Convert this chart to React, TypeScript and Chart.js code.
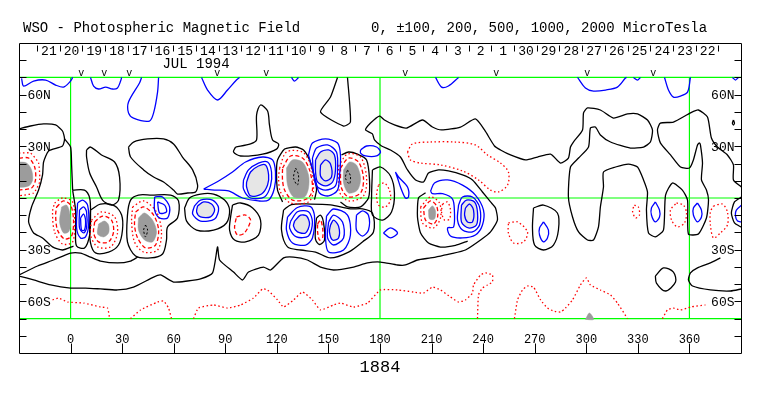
import React, { useEffect, useRef } from "react";
import { Chart, registerables } from "chart.js";
Chart.register(...registerables);

type P = [number, number];

// ---------- axes / labels ----------
const lonTicks = [0, 30, 60, 90, 120, 150, 180, 210, 240, 270, 300, 330, 360];
const latTickMarks = [-80, -70, -60, -50, -40, -30, -20, -10, 0, 10, 20, 30, 40, 50, 60, 70, 80];
const latLabelValues = [60, 30, -30, -60];
const latLabelTexts = ["60N", "30N", "30S", "60S"];
const greenLons = [0, 180, 360];
const greenLats = [-70, 0, 70];
const dayTickLons = [-19.5, -6.3, 6.9, 20.1, 33.3, 46.6, 59.8, 73.0, 86.2, 99.4, 112.6, 125.8, 139.1, 152.3, 165.5, 178.7, 191.9, 205.1, 218.4, 231.6, 244.8, 258.0, 271.2, 284.4, 297.6, 310.9, 324.1, 337.3, 350.5, 363.7, 376.9];
const dayLabels = ["21", "20", "19", "18", "17", "16", "15", "14", "13", "12", "11", "10", "9", "8", "7", "6", "5", "4", "3", "2", "1", "30", "29", "28", "27", "26", "25", "24", "23", "22"];
const monthLabel = "JUL 1994";
const monthLon = 73;
const vMarkLons = [6.2, 19.6, 34.1, 85.3, 113.8, 194.7, 247.6, 300.5, 338.9];
const titleText = "WSO - Photospheric Magnetic Field";
const levelsText = "0, \u00b1100, 200, 500, 1000, 2000 MicroTesla";
const rotationText = "1884";

// ---------- blue (positive) open contours at the top ----------
const blueTop1: P[] = [[-28.5, 69.5], [-27.3, 65], [-21.5, 67.9], [-14.5, 68.5], [-8.7, 65.6], [-4.1, 64.4], [0, 67.9], [1.2, 70]];
const blueTop2: P[] = [[11.6, 70], [13.4, 65], [16.3, 63.3], [20.4, 64.4], [24.4, 63.3], [27.3, 63.9], [29.1, 67.9], [29.7, 70]];
const blueTop3: P[] = [[41.3, 70], [40.1, 66.8], [33.7, 55.7], [33.7, 49.4], [36.6, 46.4], [45.9, 44.7], [48.3, 49.4], [50.6, 61.5], [51.2, 70]];
const blueTop4: P[] = [[76.2, 70], [79.7, 62.7], [85.5, 56.9], [91.3, 62.7], [96.5, 68.5], [98.3, 70]];
const blueTop5: P[] = [[128.5, 70], [130.3, 67.9], [132.6, 70]];
const blueTop6: P[] = [[212.3, 70], [215.8, 64.4], [219.8, 65], [225.7, 70]];
const blueTop7: P[] = [[294.9, 70], [299.5, 63.9], [304.2, 62.1], [311.2, 62.7], [318.1, 64.4], [322.8, 69.7], [323.4, 70]];
const blueTop8: P[] = [[327.4, 70], [329.8, 68.5], [331.5, 70]];
const blueTop9: P[] = [[345.5, 70], [347.8, 62.7], [350.7, 58.6], [354.8, 59.2], [358.9, 61.5], [360.6, 70]];
const blueTop10: P[] = [[385, 70], [386.8, 68.5], [388.5, 70]];
const blueEdge: P[] = [[390.5, -4], [387.3, -7], [386.8, -10.5], [388, -13.4], [390.5, -14]];

// ---------- blue closed contours ----------
const blueOval1: P[] = [[4.1, -2.9], [7.0, -1.2], [9.9, -4.1], [10.5, -15.7], [8.7, -22.6], [5.8, -23.2], [3.5, -17.4]];
const blueOval2: P[] = [[5.2, -7.0], [7.6, -5.2], [9.3, -8.1], [9.3, -17.4], [7.6, -20.3], [5.2, -17.4]];
const blueOval3: P[] = [[5.8, -11.6], [7.6, -9.3], [8.7, -12.8], [8.1, -18.6], [6.4, -18.6]];
const blueB1: P[] = [[48.9, 0.6], [53.5, 0.6], [57.6, -5.2], [56.4, -11.6], [51.8, -11.6], [48.9, -7.0]];
const blueB2: P[] = [[50.6, -2.3], [54.7, -4.1], [55.8, -8.1], [51.8, -8.7]];
const blueRing1: P[] = [[72.1, -4.6], [75.6, -1.2], [82.6, -1.2], [86.1, -5.8], [83.8, -12.2], [75.6, -13.4], [71.0, -9.3]];
const blueBigOuter: P[] = [[77.4, 5.2], [86.1, 9.9], [94.2, 15.1], [101.8, 20.9], [111.7, 23.8], [117.5, 22.1], [119.2, 15.1], [118.6, 5.8], [115.2, -1.2], [109.3, -1.7], [100.0, 0], [91.9, 4.1], [83.8, 4.6]];
const blueRing2: P[] = [[100.6, 10.5], [103.5, 16.3], [109.3, 20.3], [114.6, 20.9], [116.9, 15.1], [116.3, 7.0], [112.8, 0.6], [104.7, 0], [100.6, 5.2]];
const blue3b: P[] = [[138.4, 25.0], [140.7, 31.9], [148.3, 34.3], [155.3, 31.9], [157.0, 25.0], [156.5, 13.4], [155.3, 4.6], [150.1, 1.2], [144.8, 2.9], [142.5, 10.5]];
const blue3a: P[] = [[140.7, 23.2], [143.1, 29.0], [149.5, 30.8], [154.7, 26.7], [155.3, 16.3], [154.1, 7.0], [148.3, 4.6], [143.1, 7.0], [141.3, 15.1]];
const blue3c: P[] = [[145.4, 19.2], [148.3, 22.1], [151.2, 19.7], [151.8, 12.2], [148.3, 9.9], [145.4, 12.8]];
const blueSmall1: P[] = [[168.7, 27.9], [172.2, 30.2], [178.0, 29.6], [180.3, 26.7], [178.0, 24.4], [171.6, 24.4], [168.7, 26.1]];
const blue4b: P[] = [[126.2, -11.0], [132.0, -5.5], [139.6, -5.0], [141.9, -10.5], [140.7, -23.2], [136.7, -27.3], [129.1, -26.1], [125.6, -18.6]];
const blue4a: P[] = [[128.0, -13.5], [132.0, -8.0], [138.4, -8.0], [140.7, -14.0], [138.4, -22.1], [131.4, -22.6], [127.4, -17.4]];
const blue5b: P[] = [[148.9, -10.5], [153.0, -6.4], [161.1, -9.9], [162.8, -21.5], [158.8, -30.2], [150.1, -31.4], [148.3, -23.2]];
const blue5a: P[] = [[150.1, -13.9], [153.0, -9.9], [158.2, -13.9], [158.8, -23.2], [153.0, -27.3], [149.5, -23.2]];
const blue6: P[] = [[166.3, -10.0], [169.8, -7.5], [173.3, -10.0], [173.3, -18.6], [169.8, -22.1], [166.3, -18.6]];
const blueThin: P[] = [[189.0, 15.1], [190.8, 12.2], [196.0, 6.4], [196.6, 0.6], [194.8, 0], [191.9, 6.4], [190.2, 11.6]];
const blueDiamond: P[] = [[182.0, -20.3], [186.1, -17.4], [190.2, -20.3], [186.1, -23.2]];
const blue7outer: P[] = [[209.4, 4.0], [211.7, 8.7], [219.3, 10.5], [228.0, 7.5], [235.5, 1.7], [240.2, -7.0], [239.6, -15.7], [235.5, -21.5], [228.0, -23.2], [221.0, -22.1], [219.3, -17.4], [222.8, -16.8], [223.3, -8.1], [222.2, -0.6], [216.4, 2.5], [210.5, 2.5]];
const blue7a: P[] = [[225.7, -4.1], [228.0, 0.6], [233.8, 0.6], [237.9, -5.2], [237.9, -15.7], [233.8, -19.7], [228.0, -18.6], [225.1, -12.8]];
const blue7b: P[] = [[229.7, -5.8], [232.1, -3.5], [234.4, -7.0], [233.8, -13.9], [230.9, -13.9], [229.2, -9.9]];
const blueOval541: P[] = [[275.1, -13.9], [278.0, -18.6], [277.4, -23.2], [275.1, -25.5], [272.8, -21.5], [272.8, -17.4]];
const blueOval655: P[] = [[340.2, -2.3], [342.6, -7.0], [342.6, -11.0], [340.2, -13.9], [337.9, -9.9], [337.9, -5.8]];
const blueOval698: P[] = [[364.7, -2.9], [367.0, -7.0], [367.0, -11.0], [364.7, -13.9], [362.3, -9.9], [362.3, -5.8]];

// ---------- light grey (strong positive) ----------
const light1: P[] = [[73.9, -4.6], [77.4, -2.3], [82.0, -3.5], [83.8, -7.0], [81.4, -11.0], [75.6, -11.0], [73.3, -8.1]];
const light2: P[] = [[102.4, 9.3], [104.7, 15.1], [109.3, 18.6], [113.4, 19.2], [115.2, 13.4], [114.6, 7.5], [111.1, 2.3], [104.7, 1.2], [102.4, 6.4]];
const light3: P[] = [[142.5, 22.1], [145.4, 26.7], [150.1, 27.9], [153.5, 25.0], [154.1, 16.3], [152.4, 9.3], [148.3, 7.0], [143.7, 9.3], [142.5, 15.1]];
const light4: P[] = [[130.3, -13.5], [133.8, -10.0], [137.3, -10.5], [139.0, -15.1], [136.7, -20.3], [132.0, -19.7], [129.7, -16.3]];
const light5: P[] = [[151.2, -15.7], [153.0, -12.8], [155.9, -16.3], [155.9, -23.2], [152.4, -24.4], [150.6, -19.7]];
const light7: P[] = [[227.4, -4.1], [230.3, -1.2], [235.0, -2.3], [236.7, -8.1], [236.1, -15.7], [231.5, -17.4], [227.4, -13.9]];

// ---------- dark grey (strong negative) ----------
const dark1: P[] = [[-31, 20.9], [-25.6, 20.3], [-22.7, 16.3], [-22.1, 10.5], [-24.4, 7.0], [-31, 7.0]];
const dark2: P[] = [[-5.2, -5.2], [-2.3, -4.1], [-0.6, -8.1], [0, -15.7], [-1.2, -19.7], [-4.1, -20.3], [-6.4, -13.9]];
const dark3: P[] = [[16.3, -15.1], [19.8, -13.4], [22.1, -15.7], [22.1, -20.3], [19.2, -22.6], [15.7, -20.9]];
const dark4: P[] = [[39.5, -11.6], [43.0, -8.7], [47.7, -12.8], [50.0, -19.7], [47.7, -25.5], [43.0, -24.4], [39.5, -18.6]];
const dark5: P[] = [[125.6, 17.4], [129.1, 22.1], [134.9, 20.9], [138.4, 13.4], [138.4, 5.8], [136.1, 0.6], [129.7, 0.6], [126.2, 7.5]];
const dark6: P[] = [[158.8, 16.3], [162.3, 20.9], [166.3, 19.2], [168.7, 11.6], [166.9, 4.6], [161.7, 2.9], [158.8, 8.7]];
const dark7: P[] = [[208.2, -7.0], [210.5, -4.6], [212.3, -7.5], [211.7, -12.2], [208.8, -12.2]];
const dark8: P[] = [[299.5, -70.5], [301.8, -66.8], [304.2, -70.5]];
const core4: P[] = [[43.6, -15.7], [44.8, -18.6], [43.6, -22.6], [42.5, -18.6]];
const core5: P[] = [[130.9, 17.4], [132.6, 13.4], [132.0, 7.5], [129.7, 11.6]];
const core6: P[] = [[161.1, 16.3], [162.8, 12.8], [162.3, 8.1], [159.9, 11.6]];

// ---------- red dashed (-200) ----------
const redD1: P[] = [[-30, 23.2], [-24.4, 23.2], [-20.9, 18.0], [-20.4, 10.5], [-22.7, 5.8], [-30, 4.6]];
const redD2: P[] = [[-8.1, -5.2], [-4.1, -1.7], [0, -4.1], [1.7, -12.8], [0.6, -22.1], [-3.5, -23.8], [-7.6, -18.6], [-8.7, -9.9]];
const redD3: P[] = [[14.0, -13.9], [18.6, -10.5], [23.8, -12.8], [25.0, -19.7], [22.1, -25.5], [16.3, -25.5], [13.4, -20.3]];
const redD4: P[] = [[37.8, -8.1], [42.5, -5.2], [48.3, -9.9], [51.2, -18.6], [49.4, -27.3], [43.6, -29.0], [39.0, -23.2], [37.2, -15.7]];
const redD5: P[] = [[123.3, 17.4], [128.0, 24.4], [134.9, 23.2], [139.0, 16.3], [140.7, 4.6], [137.3, -0.6], [129.1, -1.2], [124.5, 4.6], [123.3, 10.5]];
const redD6: P[] = [[157.0, 17.4], [161.7, 23.2], [167.5, 20.9], [170.4, 11.6], [168.7, 2.9], [161.7, 0.6], [157.6, 5.8]];
const redD7: P[] = [[205.3, -5.8], [209.4, -1.7], [212.9, -4.6], [213.5, -11.0], [211.1, -15.1], [206.5, -12.8]];
const redTrap: P[] = [[96.5, -11.0], [101.8, -9.9], [104.7, -12.8], [101.2, -20.3], [97.1, -21.5], [95.4, -17.4]];
const redSmall: P[] = [[143.7, -15.1], [145.4, -12.8], [146.6, -17.4], [146.6, -23.2], [144.8, -24.4], [143.7, -19.7]];

// ---------- red dotted (-100) ----------
const redO1: P[] = [[-30, 26.1], [-23.3, 26.1], [-18.6, 20.3], [-18.0, 9.3], [-21.5, 2.9], [-30, 1.2]];
const redO2: P[] = [[-9.3, -2.9], [-4.7, 0], [1.2, -2.3], [2.3, -13.9], [1.2, -25.5], [-4.7, -26.7], [-9.3, -19.7], [-10.5, -8.1]];
const redO3: P[] = [[12.2, -12.8], [18.0, -8.1], [25.6, -11.0], [27.3, -20.3], [23.3, -28.4], [15.7, -28.4], [11.6, -21.5]];
const redO4: P[] = [[36.1, -5.2], [42.5, -1.7], [50.0, -8.1], [52.9, -19.7], [50.6, -30.2], [42.5, -31.4], [37.2, -25.5], [35.5, -13.9]];
const redO5: P[] = [[121.6, 17.4], [125.6, 26.7], [134.9, 26.7], [139.6, 19.2], [141.3, 4.6], [138.4, -2.3], [128.0, -2.9], [122.1, 3.5], [121.0, 11.6]];
const redO6: P[] = [[155.9, 18.6], [161.1, 25.5], [168.7, 23.8], [172.2, 11.6], [170.4, 1.2], [161.7, -1.7], [156.5, 3.5]];
const redO7: P[] = [[203.6, -5.2], [209.4, 0.6], [214.6, -2.9], [215.2, -11.6], [211.1, -17.4], [204.7, -14.5]];
const redO7b: P[] = [[216.4, -3.5], [219.3, -2.3], [221.0, -7.0], [220.4, -12.2], [217.5, -12.8], [215.8, -8.1]];
const redOr: P[] = [[179.1, 7.5], [182.6, 8.7], [185.5, 4.6], [186.1, -1.2], [183.2, -5.2], [179.1, -4.1], [178.0, 1.7]];
const redLong: P[] = [[196.0, 26.7], [198.9, 31.4], [209.4, 32.5], [223.9, 32.5], [235.5, 30.8], [242.5, 25.0], [250.1, 20.3], [254.7, 15.1], [254.2, 7.5], [248.9, 3.5], [244.3, 4.6], [237.3, 10.5], [228.0, 15.7], [215.2, 19.2], [203.6, 20.3], [197.7, 22.1]];
const redO508: P[] = [[254.7, -14.5], [260.0, -13.9], [265.8, -19.7], [263.5, -25.5], [257.7, -26.1], [254.7, -20.3]];
const redO632: P[] = [[328.0, -4.1], [330.3, -5.2], [330.9, -9.9], [328.6, -11.6], [326.9, -7.5]];
const redO670: P[] = [[352.5, -2.9], [356.5, -4.1], [358.3, -8.7], [357.1, -14.5], [353.0, -16.8], [349.6, -12.8], [349.0, -7.0]];
const redO712: P[] = [[374.0, -4.6], [379.2, -3.5], [382.1, -8.1], [382.1, -15.7], [378.0, -20.3], [374.0, -23.2], [372.2, -15.7], [372.2, -8.1]];
const redS1: P[] = [[-10.5, -59.2], [-7.0, -58.1], [-1.7, -60.4], [7.6, -61.0], [17.4, -63.3], [21.5, -63.9], [22.7, -70]];
const redS2: P[] = [[34.9, -70], [40.7, -65.0], [50.6, -60.4], [54.1, -59.8], [57.0, -63.9], [58.7, -70]];
const redS3: P[] = [[71.5, -70], [74.4, -63.9], [83.2, -62.1], [91.3, -63.9], [98.9, -62.1], [106.4, -58.1], [111.7, -52.8], [114.6, -53.4], [120.4, -59.2], [123.9, -63.3], [129.7, -59.2], [134.9, -54.6], [140.7, -59.2], [145.4, -65.0], [153.0, -62.1], [157.0, -61.0], [164.6, -63.3], [172.7, -61.0], [180.3, -53.4], [190.2, -53.4], [199.5, -54.6], [205.3, -55.2], [210.5, -51.7], [215.2, -53.4], [221.0, -57.5], [225.7, -60.4], [229.7, -59.2], [233.8, -55.2], [234.4, -50.5], [238.5, -44.7], [241.4, -43.5], [245.4, -44.7], [245.4, -48.8], [242.5, -50.5], [239.6, -52.3], [237.3, -56.3], [236.7, -70]];
const redS4: P[] = [[258.2, -70], [260.0, -59.2], [262.9, -53.4], [265.8, -51.1], [269.3, -51.7], [273.4, -59.2], [277.4, -63.9], [280.9, -65.6], [285.0, -66.2], [287.9, -63.9], [292.0, -59.2], [296.6, -50.5], [300.1, -46.4], [302.4, -50.5], [308.2, -53.4], [314.1, -56.3], [318.1, -61.0], [324.0, -70]];
const redS5: P[] = [[344.3, -70], [347.2, -65.0], [350.7, -63.9], [354.8, -65.0], [360.6, -63.3], [369.3, -62.1]];

// ---------- black (neutral line) ----------
const k1: P[] = [[-30, 40.1], [-23.3, 41.8], [-15.7, 43.0], [-8.7, 42.4], [-4.7, 38.9], [-3.5, 34.3], [-4.7, 30.2], [-12.8, 27.3], [-15.7, 20.9], [-16.3, 13.4], [-18.6, 4.6], [-22.7, -5.2], [-24.4, -13.9], [-21.5, -20.3], [-16.3, -23.2], [-10.5, -28.4], [-4.7, -30.2], [1.7, -27.9]];
const kx: P[] = [[-3.5, 34.3], [0, 29.6], [0.6, 19.2], [1.2, 4.6]];
const kBo: P[] = [[1.2, 4.6], [8.1, 4.6], [11.1, 0], [11.6, -9.9], [11.1, -21.5], [8.1, -29.0], [3.5, -27.9], [2.9, -19.7], [2.9, -7.0]];
const k2: P[] = [[9.3, 27.9], [11.6, 29.6], [18.0, 25.0], [25.6, 20.9], [28.5, 12.2], [27.9, -1.2], [23.8, -4.1], [18.6, -1.2], [15.1, 6.4], [11.1, 14.5], [9.3, 23.8]];
const k3: P[] = [[11.6, -7.0], [17.4, -3.5], [25.6, -4.6], [29.7, -9.9], [30.2, -18.6], [27.9, -27.3], [22.1, -31.4], [14.5, -31.9], [11.6, -26.1], [11.1, -15.7]];
const k4: P[] = [[33.7, 29.6], [36.6, 32.5], [44.8, 34.3], [54.1, 34.3], [59.9, 31.4], [65.1, 23.8], [71.0, 16.3], [73.9, 7.5], [72.7, 3.5], [68.0, 2.9], [62.2, 2.3], [59.9, 4.6], [54.1, 9.3], [48.3, 12.2], [42.5, 16.3], [34.9, 23.8]];
const k5: P[] = [[47.1, 1.7], [58.2, 1.7], [62.8, -1.7], [62.2, -11.6], [56.4, -16.8], [55.8, -24.4], [53.5, -32.5], [46.5, -34.8], [37.8, -33.7], [33.1, -25.5], [33.1, -9.9], [34.9, -1.2], [39.5, 1.7]];
const kLg1: P[] = [[66.3, -5.8], [69.2, 0], [75.6, 2.3], [83.2, 2.3], [89.6, -1.2], [92.5, -7.0], [90.7, -14.5], [83.2, -18.6], [73.3, -18.6], [67.5, -13.4]];
const kTrap: P[] = [[94.2, -4.1], [98.9, -2.9], [105.9, -5.8], [110.5, -12.8], [109.3, -21.5], [101.8, -25.5], [95.4, -24.4], [92.5, -18.6], [93.1, -11.0]];
const kSpike: P[] = [[96.0, 29.6], [104.7, 31.4], [108.2, 33.7], [108.2, 48.2], [110.5, 54.0], [114.6, 50.5], [115.7, 42.4], [117.5, 33.7], [121.0, 31.4], [119.8, 28.4], [111.7, 25.5], [98.9, 24.4], [94.8, 26.7]];
const kTri: P[] = [[155.3, 70], [151.2, 58.6], [145.4, 49.9], [158.8, 41.8], [162.8, 44.1], [161.1, 70]];
const kG5: P[] = [[123.3, -2.3], [120.4, 4.6], [119.8, 15.1], [120.4, 22.1], [124.5, 28.4], [130.9, 29.6], [135.5, 27.9], [139.0, 22.1], [141.3, 14.0], [143.1, 5.0], [141.9, -1.0]];
const kG6: P[] = [[157.6, 25.0], [161.7, 26.7], [166.9, 25.5], [172.2, 22.1], [173.9, 10.5], [173.3, 0], [168.7, -5.2], [161.1, -5.2], [157.0, -2.3]];
const kR: P[] = [[175.6, 16.3], [180.3, 18.0], [186.1, 12.8], [188.4, 2.9], [186.7, -8.1], [181.5, -12.8], [175.6, -9.9], [175.1, 0.6]];
const kS2: P[] = [[123.9, -7.0], [128.5, -3.8], [139.6, -3.5], [151.2, -4.0], [162.8, -6.3], [169.8, -6.3], [175.6, -8.7], [176.2, -19.7], [169.8, -25.5], [161.7, -31.4], [151.2, -34.8], [142.5, -31.4], [133.8, -30.2], [126.2, -28.4], [122.7, -18.6]];
const kSmall: P[] = [[143.1, -11.5], [145.4, -10.0], [147.1, -14.0], [147.7, -24.4], [144.8, -27.0], [142.5, -24.0], [142.5, -16.8]];
const kBp: P[] = [[206.5, 3.0], [202.4, 0], [201.8, -11.0], [203.6, -20.3], [208.2, -26.1], [215.2, -28.5], [223.9, -27.5], [231.0, -25.0]];
const k541: P[] = [[269.3, -5.8], [275.1, -4.1], [283.2, -8.7], [283.8, -18.6], [280.9, -27.3], [275.1, -30.2], [269.9, -27.3], [268.7, -17.4]];
const kHex: P[] = [[340.2, -45.3], [344.9, -40.6], [350.7, -43.0], [351.9, -48.8], [346.1, -54.0], [340.8, -49.4]];
const kLt: P[] = [[378.0, -34.8], [372.2, -37.7], [364.7, -40.6], [360.6, -43.5], [359.4, -47.6], [361.8, -51.1], [372.2, -53.4], [383.9, -54.0], [390.2, -52.8]];
const kRe: P[] = [[390.2, 0.5], [386.2, -2.3], [384.4, -8.7], [386.2, -14.5], [390.2, -17]];
const kTiny: P[] = [[385.6, 45.3], [386.2, 43.5], [385.6, 42.4], [385.0, 43.5]];
const kLineA: P[] = [[-30, -44.7], [-19.2, -39.5], [-9.9, -36.0], [0, -32.0], [5.8, -32.0], [11.6, -34.3], [17.4, -36.6], [27.3, -37.7], [34.9, -36.6], [39.0, -34.3]];
const kMain: P[] = [[390.2, 6.4], [385.6, 10.5], [385.6, 19.2], [382.1, 25.0], [376.3, 29.6], [372.8, 34.8], [370.5, 47.0], [365.2, 51.1], [360.6, 49.4], [350.7, 44.1], [343.1, 43.5], [341.4, 39.5], [343.1, 32.0], [349.0, 25.0], [354.8, 18.0], [360.0, 17.4], [362.3, 22.1], [364.7, 30.8], [365.8, 32.0], [366.4, 30.8], [367.6, 20.3], [367.0, 10.5], [369.9, 4.6], [371.1, -1.2], [369.9, -11.6], [365.2, -20.9], [359.4, -20.9], [358.9, -1.2], [355.9, 4.6], [350.1, 8.7], [346.1, 1.7], [344.9, -18.6], [340.2, -22.6], [336.2, -20.3], [335.0, -7.0], [335.6, 3.5], [333.3, 10.5], [329.8, 18.0], [324.5, 19.7], [317.0, 18.0], [310.0, 15.1], [310.0, 6.4], [308.2, -5.2], [307.1, -16.8], [304.2, -24.4], [300.7, -24.4], [295.5, -19.7], [292.0, -11.0], [289.6, 0.6], [290.8, 18.0], [295.5, 23.2], [301.3, 29.6], [302.4, 40.6], [305.3, 41.2], [308.2, 36.6], [314.1, 32.5], [325.7, 29.0], [333.3, 29.6], [337.3, 32.5], [338.5, 39.5], [335.6, 45.3], [329.8, 48.8], [324.0, 48.8], [315.8, 46.4], [308.2, 51.1], [300.7, 52.3], [298.4, 49.4], [297.8, 39.5], [292.5, 32.5], [290.8, 29.6], [289.6, 23.2], [285.0, 20.3], [279.2, 25.5], [271.6, 23.8], [264.6, 22.1], [255.9, 25.0], [250.1, 27.9], [246.6, 30.2], [240.8, 39.5], [235.5, 45.9], [226.8, 41.2], [215.8, 39.5], [210.5, 41.2], [204.7, 45.3], [195.4, 40.6], [188.4, 42.4], [182.6, 45.3], [179.7, 47.6], [174.5, 43.5], [171.6, 39.5], [175.6, 37.2], [176.8, 33.7], [180.9, 30.2], [186.1, 27.9], [191.9, 23.8], [196.0, 16.3], [200.7, 10.5], [205.3, 9.3], [208.2, 14.5], [214.0, 16.3], [219.8, 15.7], [228.0, 13.4], [233.8, 10.5], [239.6, 3.5], [244.3, -2.3], [247.2, -5.8], [248.3, -12.8], [244.3, -19.7], [238.5, -24.4], [229.7, -30.2], [221.0, -32.5], [215.2, -33.7], [209.4, -34.8], [201.8, -36.0], [194.8, -38.9], [190.2, -38.9], [180.3, -37.2], [172.7, -37.7], [164.6, -40.1], [153.0, -41.8], [145.4, -40.1], [137.8, -36.0], [129.7, -34.3], [123.9, -34.8], [116.3, -41.8], [112.2, -40.1], [103.5, -43.0], [100.0, -47.6], [94.8, -43.0], [86.7, -36.0], [85.5, -28.4], [82.6, -43.5], [75.6, -47.0], [68.0, -48.2], [59.9, -48.8], [52.3, -44.7], [48.3, -45.9], [36.6, -51.7], [27.3, -53.4], [17.4, -52.8], [8.7, -52.3], [0, -52.3], [-11.6, -50.5], [-21.5, -47.6], [-30, -45.3]];

// ---------- groups ----------
const blueOpen = [blueTop1, blueTop2, blueTop3, blueTop4, blueTop5, blueTop6, blueTop7, blueTop8, blueTop9, blueTop10, blueEdge];
const blueClosed = [blueOval1, blueOval2, blueOval3, blueB1, blueB2, blueRing1, blueBigOuter, blueRing2, blue3b, blue3a, blue3c, blueSmall1, blue4b, blue4a, blue5b, blue5a, blue6, blueThin, blueDiamond, blue7outer, blue7a, blue7b, blueOval541, blueOval655, blueOval698];
const lightFills = [light1, light2, light3, light4, light5, light7];
const darkFills = [dark1, dark2, dark3, dark4, dark5, dark6, dark7, dark8];
const cores = [core4, core5, core6];
const redDashedClosed = [redD2, redD3, redD4, redD5, redD6, redD7, redTrap, redSmall];
const redDashedOpen = [redD1];
const redDottedClosed = [redO2, redO3, redO4, redO5, redO6, redO7, redO7b, redOr, redLong, redO508, redO632, redO670, redO712];
const redDottedOpen = [redO1, redS1, redS2, redS3, redS4, redS5];
const blackClosed = [kBo, k2, k3, k4, k5, kLg1, kTrap, kSpike, kR, kS2, kSmall, k541, kHex, kTiny];
const blackOpen = [k1, kx, kTri, kG5, kG6, kBp, kLt, kRe, kLineA, kMain];

const BLUE = "#0000ff";
const RED = "#ff0000";
const GREEN = "#00ff00";
const FONT = '"Liberation Mono", "DejaVu Sans Mono", monospace';

function toXY(a: P[], close: boolean) {
  const r = a.map(([x, y]) => ({ x, y }));
  if (close) r.push({ x: a[0][0], y: a[0][1] });
  return r;
}

function line(a: P[], close: boolean, color: string, extra: any = {}) {
  return {
    data: toXY(a, close),
    borderColor: color,
    borderWidth: 1.3,
    pointRadius: 0,
    fill: false,
    tension: 0.3,
    order: 5,
    ...extra,
  };
}

function buildDatasets() {
  const ds: any[] = [];
  greenLons.forEach((lon) => ds.push(line([[lon, -70], [lon, 70]], false, GREEN, { tension: 0, order: 40, borderWidth: 1.2 })));
  greenLats.forEach((lat) => ds.push(line([[-30, lat], [390, lat]], false, GREEN, { tension: 0, order: 40, borderWidth: 1.2 })));
  darkFills.forEach((a) => ds.push(line(a, true, "#9c9c9c", { fill: "shape", backgroundColor: "#9c9c9c", borderWidth: 0.5, order: 30 })));
  lightFills.forEach((a) => ds.push(line(a, true, BLUE, { fill: "shape", backgroundColor: "#e6e6e6", order: 25 })));
  blueClosed.forEach((a) => ds.push(line(a, true, BLUE)));
  blueOpen.forEach((a) => ds.push(line(a, false, BLUE)));
  redDashedClosed.forEach((a) => ds.push(line(a, true, RED, { borderDash: [4, 2.5] })));
  redDashedOpen.forEach((a) => ds.push(line(a, false, RED, { borderDash: [4, 2.5] })));
  redDottedClosed.forEach((a) => ds.push(line(a, true, RED, { borderDash: [1.5, 2.5] })));
  redDottedOpen.forEach((a) => ds.push(line(a, false, RED, { borderDash: [1.5, 2.5], tension: 0.15 })));
  blackClosed.forEach((a) => ds.push(line(a, true, "#000")));
  blackOpen.forEach((a) => ds.push(line(a, false, "#000", { tension: 0.2 })));
  cores.forEach((a) => ds.push(line(a, true, "#000", { borderDash: [2, 2], borderWidth: 1, order: 1 })));
  return ds;
}

const decorPlugin = {
  id: "decor",
  afterDraw(chart: any) {
    const { ctx, chartArea: a, scales } = chart;
    const sx = scales.x;
    const sy = scales.y;
    const px = (v: number) => Math.round(sx.getPixelForValue(v)) + 0.5;
    const py = (v: number) => Math.round(sy.getPixelForValue(v)) + 0.5;
    const L = Math.round(a.left) + 0.5;
    const R = Math.round(a.right) + 0.5;
    const T = Math.round(a.top) + 0.5;
    const B = Math.round(a.bottom) + 0.5;
    ctx.save();
    ctx.strokeStyle = "#000";
    ctx.lineWidth = 1;
    ctx.beginPath();
    ctx.rect(L, T, R - L, B - T);
    // side ticks
    latTickMarks.forEach((lat) => {
      const y = py(lat);
      ctx.moveTo(L, y); ctx.lineTo(L + 7, y);
      ctx.moveTo(R - 7, y); ctx.lineTo(R, y);
    });
    // bottom ticks
    lonTicks.forEach((lon) => {
      const x = px(lon);
      ctx.moveTo(x, B); ctx.lineTo(x, B - 10);
    });
    // day ticks
    dayTickLons.forEach((lon) => {
      const x = px(lon);
      ctx.moveTo(x, T + 2); ctx.lineTo(x, T + 8);
    });
    ctx.stroke();

    ctx.fillStyle = "#000";
    ctx.textBaseline = "alphabetic";
    // bottom longitude labels
    ctx.font = `12px ${FONT}`;
    ctx.textAlign = "center";
    lonTicks.forEach((lon) => ctx.fillText(String(lon), sx.getPixelForValue(lon), B - 11));
    // latitude labels
    ctx.font = `13px ${FONT}`;
    ctx.textBaseline = "middle";
    latLabelValues.forEach((lat, i) => {
      const y = sy.getPixelForValue(lat) + 1;
      ctx.textAlign = "left";
      ctx.fillText(latLabelTexts[i], L + 8, y);
      ctx.textAlign = "right";
      ctx.fillText(latLabelTexts[i], R - 7, y);
    });
    // day labels
    ctx.textBaseline = "alphabetic";
    ctx.textAlign = "center";
    ctx.font = `13px ${FONT}`;
    dayLabels.forEach((d, i) => {
      const xm = (sx.getPixelForValue(dayTickLons[i]) + sx.getPixelForValue(dayTickLons[i + 1])) / 2;
      ctx.fillText(d, xm + 0.5, T + 11);
    });
    ctx.font = `14px ${FONT}`;
    ctx.fillText(monthLabel, sx.getPixelForValue(monthLon), T + 24);
    // v marks
    ctx.font = `10px ${FONT}`;
    vMarkLons.forEach((lon) => ctx.fillText("v", sx.getPixelForValue(lon), py(70) - 2));
    // title
    ctx.textAlign = "left";
    ctx.font = `14px ${FONT}`;
    ctx.fillText(titleText, 23, 32);
    ctx.fillText(levelsText, 371, 32);
    // rotation number
    ctx.textAlign = "center";
    ctx.font = `17px ${FONT}`;
    ctx.fillText(rotationText, sx.getPixelForValue(180), B + 18);
    ctx.restore();
  },
};

export default function App() {
  const ref = useRef<HTMLCanvasElement>(null);
  useEffect(() => {
    const canvas = ref.current;
    if (!canvas) return;
    const chart = new Chart(canvas, {
      type: "line",
      data: { datasets: buildDatasets() },
      options: {
        responsive: false,
        maintainAspectRatio: false,
        devicePixelRatio: 1,
        animation: false,
        events: [],
        layout: { padding: { left: 19, right: 22, top: 43, bottom: 43 } },
        plugins: { legend: { display: false }, tooltip: { enabled: false } },
        scales: {
          x: { type: "linear", min: -30, max: 390, display: false },
          y: { type: "linear", min: -90, max: 90, display: false },
        },
        elements: { point: { radius: 0 } },
      } as any,
      plugins: [decorPlugin],
    } as any);
    return () => chart.destroy();
  }, []);
  return (
    <div style={{ position: "absolute", left: 0, top: 0, width: 763, height: 396, background: "#fff" }}>
      <canvas ref={ref} width={763} height={396} style={{ display: "block", width: 763, height: 396 }} />
    </div>
  );
}
